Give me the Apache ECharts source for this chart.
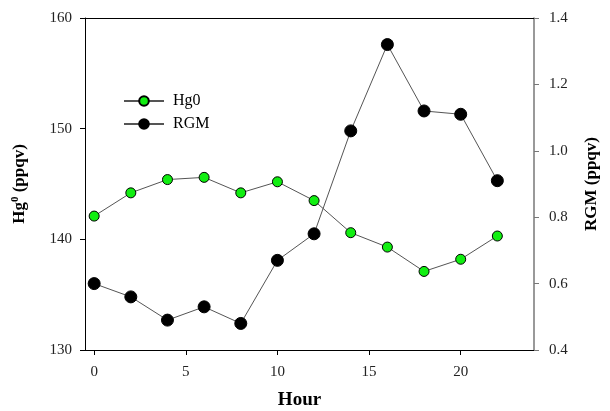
<!DOCTYPE html>
<html><head><meta charset="utf-8">
<script src="https://cdn.jsdelivr.net/npm/echarts@6/dist/echarts.min.js"></script>
<style>html,body{margin:0;padding:0;background:#fff}#c{width:610px;height:411px}</style>
</head><body><div id="c"></div>
<script>
const hours = [0, 2, 4, 6, 8, 10, 12, 14, 16, 18, 20, 22];
const hg0 = [142.1, 144.2, 145.4, 145.6, 144.2, 145.2, 143.5, 140.6, 139.3, 137.1, 138.2, 140.3];
const rgm = [0.60, 0.56, 0.49, 0.53, 0.48, 0.67, 0.75, 1.06, 1.32, 1.12, 1.11, 0.91];
const xTicks = [0, 5, 10, 15, 20];
const font = 'Liberation Serif';
const chart = echarts.init(document.getElementById('c'));
chart.setOption({
  animation: false,
  backgroundColor: '#fff',
  grid: {left: 85, right: 76, top: 18, bottom: 61, outerBoundsMode: 'none', containLabel: false},
  legend: {
    orient: 'vertical', left: 118, top: 88, itemWidth: 40, itemHeight: 12, itemGap: 7,
    textStyle: {fontFamily: font, fontSize: 16, color: '#000', padding: [0,0,0,4]},
    data: ['Hg0', 'RGM']
  },
  xAxis: [{
    type: 'value', min: -0.5, max: 24,
    name: 'Hour', nameLocation: 'middle', nameGap: 41,
    nameTextStyle: {fontFamily: font, fontSize: 19, fontWeight: 'bold', color: '#000', padding:[0,20,0,0]},
    axisLine: {show: true, onZero: false, lineStyle: {color: '#000', width: 1}},
    axisTick: {show: true, length: 5, customValues: xTicks, lineStyle: {color: '#000'}},
    axisLabel: {customValues: xTicks, fontFamily: font, fontSize: 15, color: '#222', margin: 15},
    splitLine: {show: false}
  }, {
    type: 'value', min: -0.5, max: 24, position: 'top',
    axisLine: {show: true, onZero: false, lineStyle: {color: '#000', width: 1}},
    axisTick: {show: false}, axisLabel: {show: false}, splitLine: {show: false}
  }],
  yAxis: [{
    type: 'value', min: 130, max: 160, interval: 10, position: 'left',
    name: '{m|Hg}{s|0}{m| (ppqv)}', nameLocation: 'middle', nameGap: 56, nameRotate: 90,
    nameTextStyle: {rich: {
      m: {fontFamily: font, fontSize: 17, fontWeight: 'bold', color: '#000'},
      s: {fontFamily: font, fontSize: 11, fontWeight: 'bold', color: '#000', padding: [0,0,8,0]}
    }},
    axisLine: {show: true, onZero: false, lineStyle: {color: '#000', width: 1}},
    axisTick: {show: true, length: 5, lineStyle: {color: '#000'}},
    axisLabel: {fontFamily: font, fontSize: 15, color: '#222', margin: 13},
    splitLine: {show: false}
  }, {
    type: 'value', min: 0.4, max: 1.4, interval: 0.2, position: 'right',
    name: 'RGM (ppqv)', nameLocation: 'middle', nameGap: 49, nameRotate: 90,
    nameTextStyle: {fontFamily: font, fontSize: 17, fontWeight: 'bold', color: '#000'},
    axisLine: {show: true, onZero: false, lineStyle: {color: '#777', width: 1.5}},
    axisTick: {show: true, length: 5, lineStyle: {color: '#777'}},
    axisLabel: {fontFamily: font, fontSize: 15, color: '#222', margin: 15, formatter: v => v.toFixed(1)},
    splitLine: {show: false}
  }],
  series: [{
    name: 'Hg0', type: 'line', xAxisIndex: 0, yAxisIndex: 0,
    data: hours.map((h, i) => [h, hg0[i]]),
    symbol: 'circle', symbolSize: 10,
    lineStyle: {color: '#555', width: 1},
    itemStyle: {color: '#11ee11', borderColor: '#000', borderWidth: 1}
  }, {
    name: 'RGM', type: 'line', xAxisIndex: 0, yAxisIndex: 1,
    data: hours.map((h, i) => [h, rgm[i]]),
    symbol: 'circle', symbolSize: 12,
    lineStyle: {color: '#555', width: 1},
    itemStyle: {color: '#000', borderColor: '#000', borderWidth: 1}
  }]
});
</script></body></html>
